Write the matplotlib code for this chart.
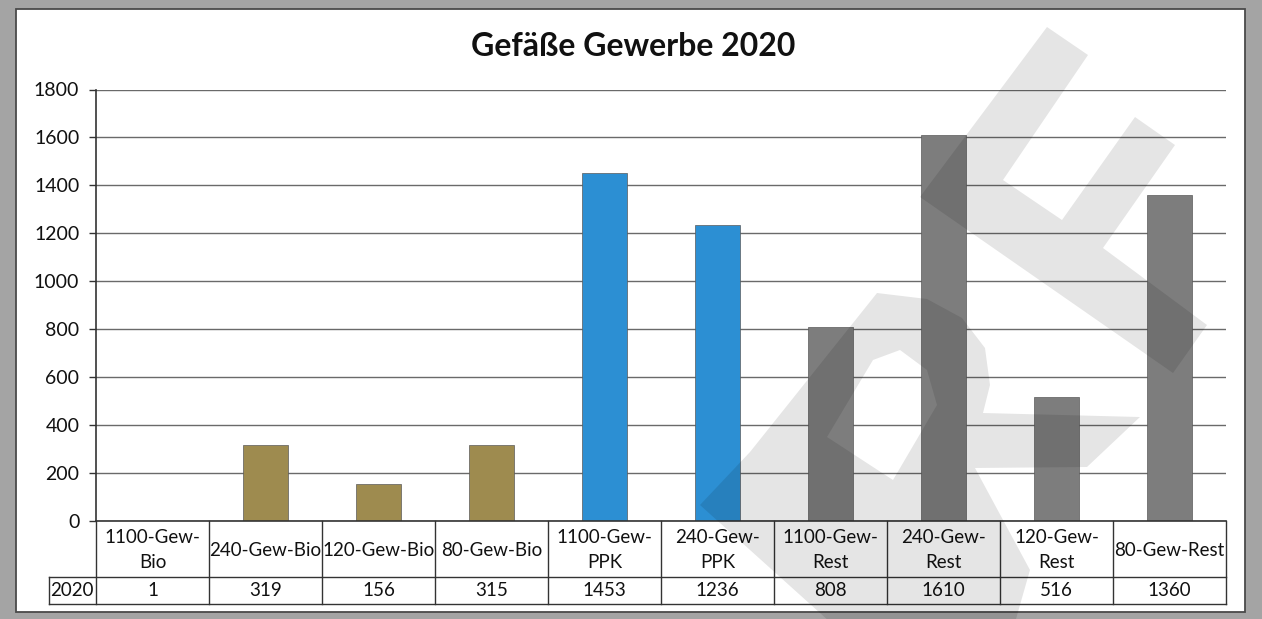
import numpy as np
import matplotlib.pyplot as plt
import matplotlib.transforms as mtransforms
from matplotlib.patches import Rectangle, Polygon, PathPatch
from matplotlib.path import Path

# Daten: Gefäße Gewerbe 2020
kategorien = ['1100-Gew-\nBio', '240-Gew-Bio', '120-Gew-Bio', '80-Gew-Bio',
              '1100-Gew-\nPPK', '240-Gew-\nPPK',
              '1100-Gew-\nRest', '240-Gew-\nRest', '120-Gew-\nRest', '80-Gew-Rest']
werte = [1, 319, 156, 315, 1453, 1236, 808, 1610, 516, 1360]
gruppen = ['Bio'] * 4 + ['PPK'] * 2 + ['Rest'] * 4
farben = {'Bio': '#9e8b4f', 'PPK': '#2c8fd3', 'Rest': '#7d7d7d'}
jahr = '2020'
titel = 'Gefäße Gewerbe 2020'
y_ticks = np.arange(0, 1801, 200)

W, H = 1262, 619
plt.rcParams['font.family'] = ['Lato', 'DejaVu Sans']

fig = plt.figure(figsize=(W / 100, H / 100), dpi=100, facecolor='#a4a4a4')


def fx(x):
    return x / W


def fy(y):
    return 1 - y / H


# weißes Blatt mit Rahmen
fig.patches.append(Rectangle((fx(16), fy(612)), (1245 - 16) / W, (612 - 9) / H,
                             transform=fig.transFigure, facecolor='white',
                             edgecolor='#4a4a4a', lw=1.3, zorder=-1))

# Diagrammfläche
top, bottom = 89.5, 521
ax = fig.add_axes([fx(96), fy(bottom), (1226 - 96) / W, (bottom - top) / H])
ax.set_facecolor('none')

x = np.arange(len(werte))
ax.bar(x, werte, width=0.4, color=[farben[g] for g in gruppen],
       edgecolor='#5a5a5a', linewidth=0.5, zorder=3)

ax.set_xlim(-0.5, len(werte) - 0.5)
ax.set_ylim(0, 1800)
ax.set_yticks(y_ticks)
ax.set_xticks([])
ax.grid(axis='y', color='#6a6a6a', lw=1.0)
ax.set_axisbelow(True)
for s in ['top', 'right', 'bottom']:
    ax.spines[s].set_visible(False)
ax.spines['left'].set_color('#333333')
ax.spines['left'].set_linewidth(1.2)
ax.tick_params(axis='y', length=5, width=1, color='#333333', labelsize=14, pad=7,
               labelcolor='#111111')

# Datentabelle unter der Achse
trans = mtransforms.blended_transform_factory(ax.transData, ax.transAxes)


def ay(py):
    return (bottom - py) / (bottom - top)


lc = '#333333'
links = -0.5 - (95.5 - 48) / 113.0
ax.plot([-0.5, 9.5], [0, 0], color=lc, lw=1.2, transform=trans, clip_on=False, zorder=4)
ax.plot([links, 9.5], [ay(577), ay(577)], color=lc, lw=1.0, transform=trans, clip_on=False)
ax.plot([links, 9.5], [ay(604), ay(604)], color=lc, lw=1.0, transform=trans, clip_on=False)
for i in range(len(werte) + 1):
    ax.plot([i - 0.5, i - 0.5], [0, ay(604)], color=lc, lw=1.0, transform=trans, clip_on=False)
ax.plot([links, links], [ay(577), ay(604)], color=lc, lw=1.0, transform=trans, clip_on=False)

for i, (k, v) in enumerate(zip(kategorien, werte)):
    ax.text(i, ay(550), k, transform=trans, ha='center', va='center',
            fontsize=13.5, linespacing=1.55, color='#111111')
    ax.text(i, ay(591), str(v), transform=trans, ha='center', va='center',
            fontsize=13.5, color='#111111')
ax.text((links - 0.5) / 2, ay(591), jahr, transform=trans, ha='center', va='center',
        fontsize=13.5, color='#111111')

# Titel
fig.text(fx(633), fy(46), titel, ha='center', va='center', fontsize=23,
         fontweight='bold', color='#111111')

# Wasserzeichen
wz = dict(facecolor='black', alpha=0.10, edgecolor='none', zorder=5,
          transform=fig.transFigure)

f_form = [(1047, 27), (1088, 55), (1003, 180), (1062, 220), (1135, 117), (1175, 145),
          (1103, 248), (1207, 325), (1173, 373), (920, 197)]
fig.patches.append(Polygon([(fx(a), fy(b)) for a, b in f_form], closed=True, **wz))

aussen = [(700, 505), (750, 452), (877, 293), (927, 299), (962, 318), (985, 348),
          (990, 385), (983, 413), (1140, 417), (1087, 467), (975, 468), (1030, 570),
          (1010, 640), (850, 640)]
loch = [(827, 437), (893, 480), (937, 405), (927, 370), (900, 350), (873, 360)]
verts = [(fx(a), fy(b)) for a, b in aussen] + [(0, 0)] + \
        [(fx(a), fy(b)) for a, b in loch] + [(0, 0)]
codes = [Path.MOVETO] + [Path.LINETO] * (len(aussen) - 1) + [Path.CLOSEPOLY] + \
        [Path.MOVETO] + [Path.LINETO] * (len(loch) - 1) + [Path.CLOSEPOLY]
fig.patches.append(PathPatch(Path(verts, codes), **wz))

fig.savefig('out.png', dpi=100, facecolor=fig.get_facecolor())
